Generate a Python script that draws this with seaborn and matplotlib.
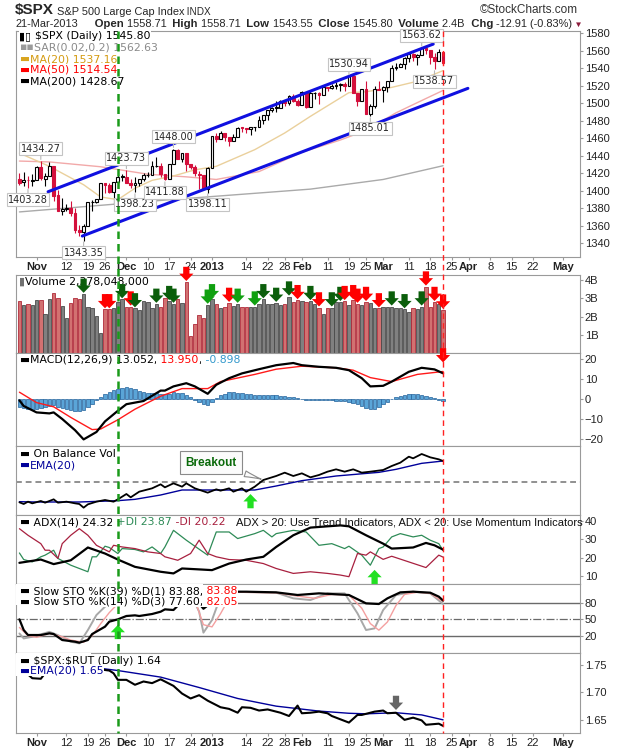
"""
$SPX daily chart with volume, MACD, OBV, ADX, slow stochastics and SPX:RUT ratio
"""
import numpy as np
import pandas as pd
import matplotlib
matplotlib.use("Agg")
import matplotlib.pyplot as plt
import matplotlib.transforms as mtransforms
from matplotlib.lines import Line2D
from matplotlib.patches import Rectangle
from matplotlib.path import Path
import seaborn as sns

sns.set_style("white")
plt.rcParams["font.family"] = ["Liberation Sans", "DejaVu Sans"]
LEG_FONT = ["DejaVu Sans"]

# ---- trading calendar -------------------------------------------------------
HOLIDAYS = ["2012-10-29", "2012-10-30", "2012-11-22", "2012-12-25",
            "2013-01-01", "2013-01-21", "2013-02-18", "2013-03-29"]
sessions = pd.bdate_range("2012-10-24", "2013-05-03", freq="C", holidays=HOLIDAYS)

tick_dates = ["2012-11-01", "2012-11-12", "2012-11-19", "2012-11-26", "2012-12-03",
              "2012-12-10", "2012-12-17", "2012-12-24", "2013-01-02", "2013-01-14",
              "2013-01-22", "2013-01-28", "2013-02-01", "2013-02-11", "2013-02-19",
              "2013-02-25", "2013-03-01", "2013-03-11", "2013-03-18", "2013-03-25",
              "2013-04-01", "2013-04-08", "2013-04-15", "2013-04-22", "2013-05-01"]
tick_labels = ["Nov", "12", "19", "26", "Dec", "10", "17", "24", "2013", "14", "22", "28",
               "Feb", "11", "19", "25", "Mar", "11", "18", "25", "Apr", "8", "15", "22", "May"]
bold_labels = {"Nov", "Dec", "2013", "Feb", "Mar", "Apr", "May"}

# ---- price data (Oct 24 2012 .. Mar 21 2013) -------------------------------
open_px = [1413.2, 1409.7, 1412.6, 1410.99, 1412.2, 1427.6, 1414.0, 1417.3, 1428.3, 1394.8,
           1377.6, 1379.9, 1380.0, 1374.6, 1355.4, 1353.4, 1359.9, 1386.8, 1387.8, 1391.0,
           1409.2, 1406.3, 1398.8, 1409.96, 1415.9, 1416.3, 1409.5, 1407.05, 1409.4, 1413.95,
           1418.1, 1418.6, 1427.8, 1428.5, 1419.5, 1413.5, 1430.5, 1446.8, 1435.8, 1443.7,
           1430.2, 1426.7, 1419.8, 1418.1, 1402.4, 1426.2, 1462.4, 1459.4, 1466.5, 1461.9,
           1457.2, 1461.0, 1472.1, 1472.1, 1470.7, 1472.3, 1472.6, 1480.9, 1486.0, 1492.6,
           1494.8, 1494.8, 1503.0, 1500.2, 1507.8, 1502.0, 1498.1, 1513.2, 1495.7, 1511.3,
           1512.1, 1509.4, 1517.9, 1517.0, 1519.4, 1520.3, 1521.4, 1519.8, 1530.9, 1512.0,
           1502.4, 1515.6, 1487.9, 1496.9, 1516.0, 1514.7, 1518.2, 1525.2, 1539.8, 1541.5,
           1544.3, 1551.2, 1556.2, 1552.5, 1554.5, 1563.2, 1560.7, 1552.1, 1548.3, 1558.71]
high_px = [1420.0, 1421.1, 1417.1, 1418.8, 1428.4, 1434.27, 1419.9, 1433.4, 1428.3, 1401.2,
           1391.4, 1384.9, 1388.8, 1380.1, 1360.6, 1362.0, 1386.9, 1389.8, 1391.3, 1409.2,
           1409.2, 1409.0, 1410.0, 1419.7, 1418.9, 1423.73, 1413.1, 1415.6, 1413.9, 1420.3,
           1421.6, 1434.3, 1438.6, 1431.4, 1419.5, 1430.7, 1448.00, 1447.8, 1443.7, 1443.7,
           1430.2, 1429.4, 1422.7, 1418.1, 1426.7, 1462.4, 1465.5, 1467.9, 1466.5, 1461.9,
           1464.7, 1472.3, 1472.8, 1472.1, 1473.3, 1473.0, 1485.2, 1485.98, 1492.6, 1496.1,
           1502.3, 1503.3, 1503.2, 1509.3, 1509.9, 1504.2, 1514.4, 1513.2, 1514.96, 1512.5,
           1512.9, 1518.3, 1518.3, 1522.3, 1524.7, 1523.1, 1524.2, 1530.94, 1530.9, 1512.0,
           1515.6, 1525.8, 1498.9, 1520.1, 1525.3, 1519.99, 1525.3, 1543.5, 1545.3, 1545.8,
           1552.5, 1556.3, 1556.8, 1556.4, 1563.62, 1563.0, 1560.7, 1557.3, 1561.6, 1558.71]
low_px = [1407.1, 1405.1, 1403.28, 1405.0, 1412.2, 1412.9, 1405.0, 1417.3, 1388.1, 1377.5,
          1373.0, 1377.2, 1370.8, 1352.5, 1348.1, 1343.35, 1359.9, 1377.0, 1386.4, 1391.0,
          1397.7, 1398.0, 1385.4, 1409.0, 1411.6, 1408.5, 1403.6, 1398.23, 1405.0, 1410.9,
          1415.6, 1418.6, 1426.8, 1416.0, 1411.88, 1413.5, 1430.5, 1435.8, 1432.8, 1422.6,
          1424.7, 1416.4, 1401.8, 1401.6, 1398.11, 1426.2, 1455.5, 1458.6, 1456.6, 1451.6,
          1457.2, 1461.0, 1467.6, 1465.7, 1463.8, 1467.8, 1472.6, 1475.8, 1481.2, 1489.9,
          1489.5, 1494.8, 1496.3, 1498.1, 1501.0, 1496.8, 1498.1, 1495.0, 1495.7, 1504.7,
          1498.5, 1509.4, 1513.6, 1515.6, 1515.9, 1514.0, 1514.1, 1519.8, 1511.4, 1497.3,
          1502.4, 1487.85, 1485.01, 1494.9, 1514.5, 1501.5, 1512.3, 1525.2, 1538.1, 1541.5,
          1539.3, 1547.4, 1548.2, 1544.0, 1554.5, 1555.7, 1545.1, 1538.57, 1548.3, 1543.55]
close_px = [1408.75, 1412.97, 1411.94, 1412.16, 1427.59, 1414.20, 1417.26, 1428.39, 1394.53, 1377.51,
            1379.85, 1380.03, 1374.53, 1355.49, 1353.33, 1359.88, 1386.89, 1387.81, 1391.03, 1409.15,
            1406.29, 1398.94, 1409.93, 1415.95, 1416.18, 1409.46, 1407.05, 1409.28, 1413.94, 1418.07,
            1418.55, 1427.84, 1428.48, 1419.45, 1413.58, 1430.36, 1446.79, 1435.81, 1443.69, 1430.15,
            1426.66, 1419.83, 1418.10, 1402.43, 1426.19, 1462.42, 1459.37, 1466.47, 1461.89, 1457.15,
            1461.02, 1472.12, 1472.05, 1470.68, 1472.34, 1472.63, 1480.94, 1485.98, 1492.56, 1494.81,
            1494.82, 1502.96, 1500.18, 1507.84, 1501.96, 1498.11, 1513.17, 1495.71, 1511.29, 1512.12,
            1509.39, 1517.93, 1517.01, 1519.43, 1520.33, 1521.38, 1519.79, 1530.94, 1511.95, 1502.42,
            1515.60, 1487.85, 1496.94, 1515.99, 1514.68, 1518.20, 1525.20, 1539.79, 1541.46, 1544.26,
            1551.18, 1556.22, 1552.48, 1554.52, 1563.23, 1560.70, 1552.10, 1548.34, 1558.71, 1545.80]

# swing labels on the price panel (day index, high/low)
label_days = [5, 2, 15, 25, 27, 34, 36, 44, 77, 82, 94, 97]
label_kind = ["H", "L", "L", "H", "L", "L", "H", "L", "H", "L", "H", "L"]

# hand drawn trend channel (day, price)
chan_up_days, chan_up_px = [6.7, 96.7], [1399.0, 1567.4]
chan_lo_days, chan_lo_px = [14.7, 104.8], [1348.5, 1516.9]

ma20_days = [0, 7, 15, 19, 23, 27, 31, 36, 41, 46, 55, 62, 68, 73, 77, 81, 87, 93, 99]
ma20_vals = [1443, 1428, 1407, 1393, 1390, 1403, 1412, 1417, 1424, 1428, 1447, 1466, 1485,
             1500, 1512, 1513, 1518, 1525, 1537.16]
ma50_days = [0, 7, 19, 30, 39, 46, 56, 66, 75, 81, 88, 94, 99]
ma50_vals = [1434, 1433, 1427.5, 1419, 1416, 1413, 1422, 1444, 1458, 1469, 1489, 1503, 1514.54]
ma200_days = [0, 34, 68, 85, 99]
ma200_vals = [1376, 1389.5, 1402, 1413, 1428.67]

# ---- volume (billions) -----------------------------------------------------
volume_b = [2.85, 2.65, 2.72, 2.65, 2.90, 2.90, 2.15, 2.95, 3.30, 3.05,
            2.60, 1.90, 2.75, 3.05, 2.95, 3.25, 2.55, 2.45, 2.05, 1.10,
            2.40, 2.40, 2.45, 2.80, 2.95, 2.55, 2.55, 2.45, 2.35, 2.85,
            2.80, 2.45, 2.70, 2.55, 3.05, 2.85, 2.70, 2.95, 2.75, 3.90,
            0.95, 1.60, 2.10, 1.90, 2.65, 2.95, 2.70, 2.45, 2.55, 2.75,
            2.60, 2.70, 2.55, 2.55, 2.55, 2.55, 2.70, 2.95, 2.70, 2.70,
            2.75, 2.65, 2.70, 3.10, 2.80, 2.90, 2.85, 2.80, 2.85, 2.70,
            2.50, 2.15, 2.45, 2.50, 2.80, 2.80, 2.85, 2.65, 2.90, 2.70,
            2.65, 2.80, 2.75, 2.50, 2.45, 2.55, 2.55, 2.55, 2.50, 2.50,
            2.40, 2.25, 2.45, 2.40, 2.55, 3.65, 2.55, 2.80, 2.70, 2.38]
vol_arrow_days = [15, 20, 21, 24, 26, 27, 32, 35, 36, 39, 44, 45, 49, 51, 55, 57, 60, 63,
                  65, 68, 70, 73, 75, 76, 78, 79, 81, 84, 87, 90, 94, 95, 97, 99]
vol_arrow_bright = [44, 45, 51, 55]

# ---- MACD ------------------------------------------------------------------
macd_days = [0, 1, 4, 7, 8, 10, 13, 15, 18, 20, 23, 25, 29, 33, 34, 36, 39, 41, 44, 46, 49,
             52, 56, 60, 64, 66, 70, 74, 77, 80, 82, 85, 87, 91, 94, 97, 99]
macd_line = [-0.5, -3.3, -6.5, -7.0, -6.5, -9.8, -15.4, -20.0, -16.3, -11.0, -5.7, -2.4, -0.8,
             4.4, 4.4, 6.5, 8.1, 6.5, 2.8, 7.3, 10.6, 13.0, 15.1, 17.1, 18.2, 17.1, 16.3, 15.8,
             14.6, 10.6, 6.5, 6.8, 8.9, 13.8, 15.8, 15.0, 13.052]
signal_days = [0, 4, 8, 12, 17, 19, 23, 27, 33, 38, 44, 47, 55, 60, 66, 74, 78, 82, 87, 93, 99]
signal_line = [3.6, -1.6, -3.7, -9.0, -15.1, -14.8, -10.2, -4.9, 1.6, 5.4, 5.4, 8.9, 12.5,
               15.1, 16.6, 15.8, 14.6, 10.9, 8.9, 12.5, 13.95]
macd_hist = [-4.0, -4.5, -5.0, -5.2, -5.0, -4.5, -3.6, -3.2, -3.0, -3.6,
             -4.3, -5.0, -5.5, -5.8, -5.7, -5.3, -4.0, -2.2, -0.5, 1.2,
             2.6, 3.6, 4.5, 5.3, 5.9, 6.0, 5.6, 5.0, 4.4, 3.8,
             3.3, 3.2, 3.1, 2.8, 2.6, 2.9, 3.6, 3.4, 3.0, 2.2,
             1.0, -0.3, -1.2, -2.1, -2.6, -1.2, 0.8, 2.0, 2.9, 3.5,
             3.6, 3.4, 3.0, 2.9, 2.6, 2.4, 2.3, 2.2, 2.0, 2.1,
             2.0, 1.8, 1.6, 1.3, 1.0, 0.6, 0.3, -0.4, -0.3, -0.5,
             -0.4, -0.2, -0.3, -0.4, -0.6, -0.7, -0.9, -1.2, -1.6, -2.5,
             -3.4, -4.3, -5.0, -4.6, -3.6, -2.4, -1.2, 0.2, 1.2, 1.8,
             2.2, 2.5, 2.6, 2.5, 2.2, 1.8, 1.1, 0.5, -0.2, -0.9]

# ---- On balance volume (unscaled) ------------------------------------------
obv_days = [0, 1, 2, 3, 5, 6, 8, 9, 11, 13, 14, 15, 16, 18, 20, 22, 23, 25, 26, 28,
            31, 33, 34, 36, 38, 39, 41, 44, 46, 47, 49, 50, 52, 53, 55, 57, 60, 62, 64, 66,
            68, 70, 72, 74, 76, 78, 80, 82, 85, 87, 89, 91, 92, 94, 96, 98, 99]
obv_vals = [1.3, 0.8, 1.5, 1.0, 1.7, 1.2, 2.2, 1.2, 1.5, 1.0, 0.8, -0.3, 0.7, 1.5, 2.0, 1.5,
            2.2, 3.8, 2.8, 4.5, 5.5, 6.7, 5.8, 7.0, 6.0, 7.0, 5.5, 4.2, 5.2, 4.8, 5.5, 4.5,
            5.5, 4.5, 6.0, 8.0, 9.2, 10.2, 9.2, 10.0, 8.8, 9.5, 10.5, 11.2, 10.5, 11.2, 10.2,
            10.5, 11.0, 12.2, 13.2, 15.0, 14.5, 15.8, 14.8, 14.2, 13.7]
obv_ema_days = [0, 4, 14, 23, 27, 33, 38, 47, 55, 60, 66, 74, 84, 88, 94, 99]
obv_ema_vals = [1.5, 1.4, 1.4, 1.8, 2.2, 3.5, 5.0, 5.0, 5.0, 6.2, 7.8, 9.2, 10.3, 11.2, 13.0, 13.7]
obv_level = 7.5
obv_signal_day = 54

# ---- ADX -------------------------------------------------------------------
adx_days = [0, 5, 8, 12, 16, 20, 23, 27, 33, 36, 38, 42, 45, 49, 53, 57, 60, 64, 68, 72,
            75, 77, 81, 85, 87, 92, 95, 97, 99]
adx_vals = [17.1, 18.9, 16.4, 18.5, 25.5, 22.2, 18.9, 14.9, 12.2, 11.3, 14.0, 13.5, 13.1,
            16.7, 18.9, 20.4, 25.8, 32.2, 36.4, 37.1, 37.6, 37.1, 32.2, 27.6, 24.9, 25.5,
            28.0, 26.7, 24.32]
pdi_days = [0, 1, 3, 5, 6, 8, 9, 12, 14, 16, 17, 18, 20, 21, 23, 24, 27, 29, 31, 33,
            34, 36, 39, 41, 44, 46, 49, 51, 55, 57, 59, 60, 64, 67, 70, 73, 76, 77, 80, 81,
            82, 84, 85, 87, 89, 92, 94, 96, 98, 99]
pdi_vals = [22.5, 18.9, 17.6, 20.4, 21.3, 24.0, 19.5, 15.8, 14.0, 12.2, 20.4, 20.4, 26.2,
            25.5, 22.2, 24.9, 24.4, 23.1, 25.8, 22.2, 25.8, 34.9, 29.5, 26.2, 21.3, 34.0,
            34.0, 30.4, 33.1, 34.9, 31.3, 33.1, 34.9, 34.0, 26.7, 27.6, 24.9, 26.2, 21.3,
            18.5, 15.8, 24.9, 25.8, 31.3, 33.1, 31.3, 32.2, 29.5, 27.6, 23.87]
mdi_days = [0, 2, 5, 6, 7, 9, 10, 12, 14, 16, 18, 21, 22, 24, 27, 30, 33, 34, 37, 40,
            42, 44, 46, 49, 53, 57, 60, 64, 68, 72, 75, 77, 79, 81, 82, 85, 87, 91, 95, 98, 99]
mdi_vals = [35.8, 32.2, 27.6, 24.0, 24.0, 19.5, 27.6, 32.2, 35.8, 32.2, 26.7, 23.1, 26.7,
            25.8, 24.9, 23.1, 22.2, 20.4, 18.5, 22.2, 29.5, 22.2, 20.4, 18.9, 18.5, 16.7,
            14.0, 11.3, 12.2, 11.3, 10.4, 9.5, 22.2, 21.3, 23.1, 19.0, 20.7, 17.6, 14.5,
            21.3, 20.22]
adx_signal_day = 83

# ---- Slow stochastics ------------------------------------------------------
sto39_days = [0, 1, 2, 5, 7, 8, 10, 13, 14, 16, 17, 20, 21, 23, 25, 27, 28, 31, 33, 34,
              36, 39, 41, 43, 44, 46, 53, 60, 65, 70, 77, 81, 84, 86, 89, 92, 96, 98, 99]
sto39_vals = [49.7, 30.3, 21.2, 21.2, 24.2, 23.0, 12.1, 9.1, 7.3, 12.1, 23.0, 36.4, 45.5,
              49.7, 55.8, 57.0, 55.8, 59.4, 63.6, 67.9, 66.7, 90.0, 88.0, 69.0, 75.0, 100.0,
              100.0, 98.8, 94.0, 97.0, 94.0, 78.8, 77.6, 87.9, 98.8, 100.0, 98.2, 91.0, 83.88]
sto14_days = [0, 1, 3, 7, 9, 12, 14, 16, 18, 20, 22, 26, 31, 36, 40, 42, 43, 45, 47, 49,
              60, 64, 68, 72, 76, 79, 81, 83, 85, 88, 92, 96, 99]
sto14_vals = [24, 15, 18, 27, 21, 9, 6, 30.3, 57.6, 72.7, 84.8, 88, 92, 98, 97, 63.6, 25.5,
              48.5, 91, 100, 98.2, 87.9, 84.8, 97, 97, 60.6, 30.3, 33.3, 66.7, 93.9, 100, 97,
              77.6]
stod_days = [0, 2, 4, 7, 10, 12, 15, 17, 19, 21, 23, 27, 32, 37, 41, 43, 45, 47, 49, 51,
             60, 65, 69, 73, 77, 80, 82, 84, 86, 88, 90, 93, 96, 99]
stod_vals = [35, 20, 17, 24, 18, 12, 8, 20, 42, 62, 78, 86, 90, 96, 85, 40, 36, 60, 88, 99,
             98, 92, 88, 95, 94, 70, 42, 30, 45, 75, 95, 99, 97, 82.05]
sto_signal_day = 23

# ---- SPX:RUT ratio ---------------------------------------------------------
ratio_days = [0, 2, 3, 5, 6, 8, 12, 15, 17, 19, 21, 22, 23, 25, 27, 29, 31, 33, 34, 36,
              38, 40, 42, 44, 46, 47, 49, 51, 52, 54, 56, 58, 60, 61, 63, 65, 66, 68, 70,
              72, 73, 75, 77, 79, 80, 83, 85, 86, 88, 90, 92, 94, 95, 98, 99]
ratio_vals = [1.735, 1.733, 1.726, 1.725, 1.735, 1.745, 1.750, 1.748, 1.746, 1.742, 1.740,
              1.735, 1.723, 1.723, 1.714, 1.720, 1.717, 1.724, 1.720, 1.712, 1.698, 1.689,
              1.695, 1.685, 1.677, 1.673, 1.670, 1.663, 1.673, 1.672, 1.667, 1.669, 1.665,
              1.663, 1.657, 1.676, 1.662, 1.663, 1.665, 1.662, 1.657, 1.651, 1.645, 1.659,
              1.659, 1.665, 1.667, 1.662, 1.663, 1.650, 1.654, 1.649, 1.641, 1.643, 1.639]
ratio_ema_days = [0, 8, 17, 23, 33, 42, 51, 60, 70, 77, 81, 88, 94, 99]
ratio_ema_vals = [1.738, 1.742, 1.746, 1.740, 1.728, 1.709, 1.689, 1.675, 1.666, 1.662,
                  1.661, 1.663, 1.659, 1.650]
ratio_signal_day = 88

marker_days = {"green": 23, "red": 99}

# ---------------------------------------------------------------------------
N = len(close_px)
days = np.arange(N)
RED = "#d4103c"
GRID = "#9a9a9a"
LEG_SIZE = 7.8

ARROW_DOWN = Path([(-0.22, 0.5), (0.22, 0.5), (0.22, 0.02), (0.5, 0.02), (0.0, -0.5),
                   (-0.5, 0.02), (-0.22, 0.02), (-0.22, 0.5)], closed=True)
ARROW_UP = Path([(x, -y) for x, y in ARROW_DOWN.vertices], closed=True)


def legend_row(ax, y, pieces, size=LEG_SIZE):
    """row of coloured text pieces with a white background, top left of a panel"""
    prev = None
    for text, color in pieces:
        kw = dict(fontsize=size, color=color, family=LEG_FONT, ha="left", zorder=6,
                  bbox=dict(fc="white", ec="none", pad=0.4))
        if prev is None:
            prev = ax.text(0.006, y, text, transform=ax.transAxes, va="center", **kw)
        else:
            prev = ax.annotate(text, xy=(1, 0), xycoords=prev, va="bottom", **kw)
    return prev


def legend_backdrop(ax, x_right_px, y_bottom_frac):
    """white block behind a legend, hides the lines passing under it"""
    ax.add_patch(Rectangle((0, y_bottom_frac), (x_right_px - 16) / 564, 1 - y_bottom_frac,
                           transform=ax.transAxes, fc="white", ec="none", zorder=5))


def chain(ax, first, pieces):
    prev = first
    for text, kw in pieces:
        prev = ax.annotate(text, xy=(1, 0), xycoords=prev, va="bottom", ha="left",
                           annotation_clip=False, **kw)
    return prev


fig = plt.figure(figsize=(6.2, 7.5), dpi=100)
LEFT, WIDTH = 16 / 620, 564 / 620


def add_panel(y_top, y_bottom):
    return fig.add_axes([LEFT, 1 - y_bottom / 750, WIDTH, (y_bottom - y_top) / 750])


ax_p = add_panel(31, 257)
ax_v = add_panel(275, 353)
ax_m = add_panel(353, 446)
ax_o = add_panel(446, 515)
ax_a = add_panel(515, 584)
ax_s = add_panel(584, 653)
ax_r = add_panel(653, 733)
axes = [ax_p, ax_v, ax_m, ax_o, ax_a, ax_s, ax_r]

tick_pos = [sessions.get_loc(pd.Timestamp(d)) for d in tick_dates]
for ax in axes:
    ax.set_xlim(-0.8, 131)
    for sp in ax.spines.values():
        sp.set_color(GRID)
        sp.set_linewidth(0.8)
    ax.yaxis.tick_right()
    ax.tick_params(axis="y", right=True, left=False, length=2, pad=1.5, colors="#222",
                   labelsize=8, color=GRID)
    ax.tick_params(axis="x", bottom=True, length=2, pad=1.5, labelsize=8, color=GRID,
                   colors="#222")
    ax.set_xticks(tick_pos)
    if ax in (ax_p, ax_r):
        ax.set_xticklabels(tick_labels)
        for lab in ax.get_xticklabels():
            if lab.get_text() in bold_labels:
                lab.set_fontweight("bold")
    else:
        ax.set_xticklabels([])

# ---- price panel ------------------------------------------------------------
prev_close = np.r_[open_px[0], close_px[:-1]]
is_down = np.array(close_px) < prev_close
cols = [RED if d else "black" for d in is_down]
body_lo = np.minimum(open_px, close_px)
body_h = np.maximum(np.abs(np.array(close_px) - np.array(open_px)), 0.5)
filled = np.array(close_px) < np.array(open_px)
ax_p.vlines(days, low_px, high_px, colors=cols, lw=0.8, zorder=3)
ax_p.bar(days, body_h, bottom=body_lo, width=0.66,
         color=[c if f else "white" for c, f in zip(cols, filled)],
         edgecolor=cols, linewidth=0.8, zorder=4)

sns.lineplot(x=ma200_days, y=ma200_vals, ax=ax_p, color="#aaaaaa", lw=1.0, zorder=2)
sns.lineplot(x=ma50_days, y=ma50_vals, ax=ax_p, color="#f2a9a9", lw=1.0, zorder=2)
sns.lineplot(x=ma20_days, y=ma20_vals, ax=ax_p, color="#ead09c", lw=1.0, zorder=2)
sns.lineplot(x=chan_up_days, y=chan_up_px, ax=ax_p, color="#1010e0", lw=2.2, zorder=5)
sns.lineplot(x=chan_lo_days, y=chan_lo_px, ax=ax_p, color="#1010e0", lw=2.2, zorder=5)

for d, kind in zip(label_days, label_kind):
    val = high_px[d] if kind == "H" else low_px[d]
    off = 5 if kind == "H" else -5
    ax_p.annotate(f"{val:.2f}", xy=(d, val), xytext=(0, off), textcoords="offset points",
                  ha="center", va="bottom" if kind == "H" else "top", fontsize=7,
                  family=LEG_FONT, zorder=6,
                  bbox=dict(boxstyle="square,pad=0.15", fc="white", ec="#c4c4c4", lw=0.8),
                  arrowprops=dict(arrowstyle="-", color="#b8b8b8", lw=0.8,
                                  shrinkA=0, shrinkB=1))

ax_p.set_ylim(1324.6, 1582.3)
ax_p.set_yticks(range(1340, 1581, 20))

legend_row(ax_p, 1 - 5 / 226, [("▮▯ ", "black"), ("\\$SPX (Daily) 1545.80", "black")])
legend_row(ax_p, 1 - 16.3 / 226, [("▪▪", "#9a9a9a"), ("SAR(0.02,0.2) 1562.63", "#8a8a8a")])
legend_row(ax_p, 1 - 28 / 226, [("▬", "#d9a520"), ("MA(20) 1537.16", "#d49a10")])
legend_row(ax_p, 1 - 39 / 226, [("▬", "#ff0000"), ("MA(50) 1514.54", "#ff0000")])
legend_row(ax_p, 1 - 50 / 226, [("▬", "black"), ("MA(200) 1428.67", "black")])

# ---- volume -------------------------------------------------------------------
ax_v.bar(days, volume_b, width=0.8,
         color=["#d27171" if d else "#808080" for d in is_down],
         edgecolor=["#b02a3a" if d else "#4a4a4a" for d in is_down], linewidth=0.6,
         zorder=3)
ax_v.set_ylim(0, 4.29)
ax_v.set_yticks([1, 2, 3, 4])
ax_v.set_yticklabels(["1B", "2B", "3B", "4B"])
legend_row(ax_v, 1 - 6.7 / 78, [("▮", "#707070"), ("Volume 2,378,048,000", "black")])

arrow_cols = []
for d in vol_arrow_days:
    if is_down[d]:
        arrow_cols.append("#ff0000")
    elif d in vol_arrow_bright:
        arrow_cols.append("#10a010")
    else:
        arrow_cols.append("#0b5e0b")
ax_v.scatter(vol_arrow_days, [volume_b[d] + 0.45 for d in vol_arrow_days],
             marker=ARROW_DOWN, s=105, c=arrow_cols, edgecolors="none", zorder=8,
             clip_on=False)

# ---- MACD -----------------------------------------------------------------------
ax_m.bar(days, macd_hist, width=0.8, color="#5aa5d8", edgecolor="#22609a", linewidth=0.5,
         zorder=2)
sns.lineplot(x=signal_days, y=signal_line, ax=ax_m, color="#ff1a1a", lw=1.0, zorder=3)
sns.lineplot(x=macd_days, y=macd_line, ax=ax_m, color="black", lw=1.6, zorder=4)
ax_m.set_ylim(-23.3, 23.2)
ax_m.set_yticks([-20, -10, 0, 10, 20])
legend_row(ax_m, 1 - 7 / 93, [("▬", "black"), ("MACD(12,26,9) 13.052,", "black"),
                              (" 13.950", "#ff0000"), (",", "black"), (" -0.898", "#3399cc")])
ax_m.scatter([99], [macd_line[-1] + 9], marker=ARROW_DOWN, s=105, c="#ff0000",
             edgecolors="none", zorder=8, clip_on=False)

# ---- OBV ------------------------------------------------------------------------
ax_o.axhline(obv_level, color="#909090", lw=1.4, ls=(0, (3, 2)), zorder=1)
sns.lineplot(x=obv_ema_days, y=obv_ema_vals, ax=ax_o, color="#00009a", lw=1.0, zorder=3)
sns.lineplot(x=obv_days, y=obv_vals, ax=ax_o, color="black", lw=1.3, zorder=4)
ax_o.set_ylim(-2.5, 18.2)
ax_o.set_yticks([])
legend_row(ax_o, 1 - 8 / 69, [("▬", "black"), (" On Balance Vol", "black")])
legend_row(ax_o, 1 - 19 / 69, [("▬", "#00009a"), ("EMA(20)", "#00009a")])
obv_at = np.interp(obv_signal_day, obv_days, obv_vals)
ax_o.scatter([obv_signal_day], [obv_at - 3.6], marker=ARROW_UP, s=105, c="#22e022",
             edgecolors="none", zorder=8)
ax_o.annotate("Breakout", xy=(57.1, 8.0), xytext=(44.8, 13.25), ha="center", va="center",
              fontsize=8.5, fontweight="bold", color="#0a6a0a", zorder=7,
              bbox=dict(boxstyle="square,pad=0.45", fc="#fbfbfb", ec="#8a8a8a", lw=0.8),
              arrowprops=dict(arrowstyle="wedge,tail_width=0.5,shrink_factor=0.4",
                              fc="#fbfbfb", ec="#8a8a8a", lw=0.8))

# ---- ADX ------------------------------------------------------------------------
sns.lineplot(x=pdi_days, y=pdi_vals, ax=ax_a, color="#2e8b57", lw=0.9, zorder=3)
sns.lineplot(x=mdi_days, y=mdi_vals, ax=ax_a, color="#a8203f", lw=0.9, zorder=3)
sns.lineplot(x=adx_days, y=adx_vals, ax=ax_a, color="black", lw=1.6, zorder=4)
ax_a.set_ylim(5.5, 43.3)
ax_a.set_yticks([10, 20, 30, 40])
legend_row(ax_a, 1 - 7.3 / 69, [("▬", "black"), (" ADX(14) 24.32", "black"),
                                (" +DI 23.87", "#2e8b57"), (" -DI 20.22", "#a8203f")])
ax_a.text((236.5 - 16) / 564, 1 - 7.3 / 69,
          "ADX > 20: Use Trend Indicators, ADX < 20: Use Momentum Indicators",
          transform=ax_a.transAxes, ha="left", va="center", fontsize=8, color="#111",
          zorder=6)
adx_at = np.interp(adx_signal_day, pdi_days, pdi_vals)
ax_a.scatter([adx_signal_day], [adx_at - 11], marker=ARROW_UP, s=105, c="#22e022",
             edgecolors="none", zorder=8)

# ---- Slow stochastics -------------------------------------------------------------
for lvl in (80, 20):
    ax_s.axhline(lvl, color="#6a6a6a", lw=1.0, zorder=1)
ax_s.axhline(50, color="#6a6a6a", lw=0.9, ls="-.", zorder=1)
sns.lineplot(x=sto14_days, y=sto14_vals, ax=ax_s, color="#a8a8a8", lw=1.4, zorder=2)
sns.lineplot(x=stod_days, y=stod_vals, ax=ax_s, color="#f4a0a0", lw=1.0, zorder=3)
sns.lineplot(x=sto39_days, y=sto39_vals, ax=ax_s, color="black", lw=1.6, zorder=4)
ax_s.set_ylim(-11.5, 114)
ax_s.set_yticks([20, 50, 80])
legend_backdrop(ax_s, 203, 1 - 21 / 69)
legend_row(ax_s, 1 - 7 / 69, [("▬", "black"), (" Slow STO %K(39) %D(1) 83.88,", "black"),
                              (" 83.88", "#ff0000")])
legend_row(ax_s, 1 - 17.7 / 69, [("▬", "black"), (" Slow STO %K(14) %D(3) 77.60,", "black"),
                                 (" 82.05", "#ff0000")])
sto_at = np.interp(sto_signal_day, sto39_days, sto39_vals)
ax_s.scatter([sto_signal_day], [sto_at - 23], marker=ARROW_UP, s=105, c="#22e022",
             edgecolors="none", zorder=8)

# ---- SPX:RUT ------------------------------------------------------------------------
sns.lineplot(x=ratio_ema_days, y=ratio_ema_vals, ax=ax_r, color="#00009a", lw=1.0, zorder=3)
sns.lineplot(x=ratio_days, y=ratio_vals, ax=ax_r, color="black", lw=1.5, zorder=4)
ax_r.set_ylim(1.626, 1.772)
ax_r.set_yticks([1.65, 1.70, 1.75])
ax_r.set_yticklabels(["1.65", "1.70", "1.75"])
legend_backdrop(ax_r, 91, 1 - 23 / 80)
legend_row(ax_r, 1 - 7.7 / 80, [("▬", "black"), (" \\$SPX:\\$RUT (Daily) 1.64", "black")])
legend_row(ax_r, 1 - 17.7 / 80, [("▬", "#00009a"), ("EMA(20) 1.65", "#00009a")])
ratio_at = np.interp(ratio_signal_day, ratio_days, ratio_vals)
ax_r.scatter([ratio_signal_day], [ratio_at + 0.018], marker=ARROW_DOWN, s=105, c="#666666",
             edgecolors="none", zorder=8)

for ax in axes:
    ax.set_xlabel("")
    ax.set_ylabel("")

# ---- vertical markers across all panels ----------------------------------------------
trans = mtransforms.blended_transform_factory(ax_p.transData, fig.transFigure)
fig.add_artist(Line2D([marker_days["green"]] * 2, [1 - 31 / 750, 1 - 733 / 750],
                      transform=trans, color="#1a9a1a", lw=1.8, ls=(0, (3, 2))))
fig.add_artist(Line2D([marker_days["red"]] * 2, [1 - 31 / 750, 1 - 733 / 750],
                      transform=trans, color="#ff2020", lw=1.0, ls=(0, (4, 3))))

# ---- header ---------------------------------------------------------------------------
t = fig.text(15 / 620, 1 - 10 / 750, "\\$SPX", fontsize=11, fontweight="bold", va="center")
chain(ax_p, t, [(" S&P 500 Large Cap Index", dict(fontsize=7.9)),
                (" INDX", dict(fontsize=7.2))])
fig.text(578 / 620, 1 - 10 / 750, "©StockCharts.com", ha="right", va="center",
         fontsize=8.5, color="#333")
t = fig.text(16 / 620, 1 - 24 / 750, "21-Mar-2013", fontsize=7.9, va="center")
normal, bold = dict(fontsize=7.9), dict(fontsize=8.2, fontweight="bold")
chain(ax_p, t, [("     Open", bold), (" 1558.71", normal), ("  High", bold),
                (" 1558.71", normal), ("  Low", bold), (" 1543.55", normal),
                ("  Close", bold), (" 1545.80", normal), ("  Volume", bold),
                (" 2.4B", normal), ("  Chg", bold), (" -12.91 (-0.83%)", normal),
                (" ▼", dict(fontsize=6, color="#8b1a3a"))])

fig.savefig("out.png", dpi=100)
